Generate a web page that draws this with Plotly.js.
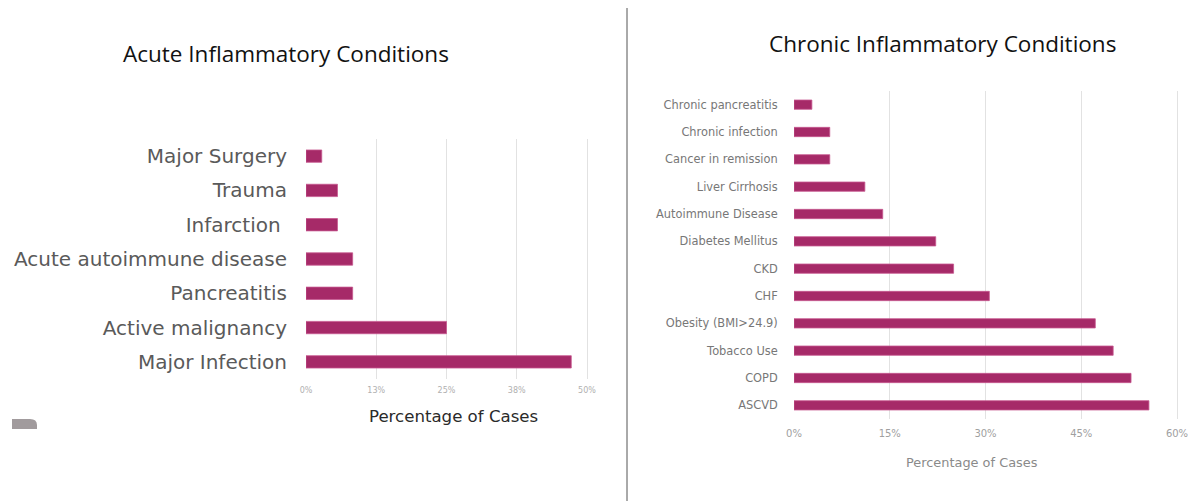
<!DOCTYPE html>
<html>
<head>
<meta charset="utf-8">
<script src="https://cdn.plot.ly/plotly-3.0.1.min.js"></script>
<style>
  html, body { margin: 0; padding: 0; background: #ffffff; }
  #chart { width: 1188px; height: 501px; }
</style>
</head>
<body>
<div id="chart"></div>
<script>
// Acute conditions (share of cases, %)
const acuteCategories = ['Major Surgery', 'Trauma', 'Infarction ', 'Acute autoimmune disease', 'Pancreatitis', 'Active malignancy', 'Major Infection'];
const acuteValues = [2.8, 5.6, 5.6, 8.3, 8.3, 25.0, 47.2];
const acuteTickVals = [0, 12.5, 25, 37.5, 50];
const acuteTickText = ['0%', '13%', '25%', '38%', '50%'];

// Chronic conditions (share of cases, %)
const chronicCategories = ['Chronic pancreatitis', 'Chronic infection', 'Cancer in remission', 'Liver Cirrhosis', 'Autoimmune Disease', 'Diabetes Mellitus', 'CKD', 'CHF', 'Obesity (BMI>24.9)', 'Tobacco Use', 'COPD', 'ASCVD'];
const chronicValues = [2.8, 5.6, 5.6, 11.1, 13.9, 22.2, 25.0, 30.6, 47.2, 50.0, 52.8, 55.6];
const chronicTickVals = [0, 15, 30, 45, 60];
const chronicTickText = ['0%', '15%', '30%', '45%', '60%'];

const barColor = '#a62a68';
const W = 1188, H = 501;
const px = x => x / W;           // pixel -> paper x
const py = y => 1 - y / H;       // pixel -> paper y

// a little headroom past the last tick so its gridline is kept
const acuteMax = 50.4, chronicMax = 60.4;
const acuteLeft = 306, acutePerPct = (587 - 306) / 50;
const chronicLeft = 794, chronicPerPct = (1177 - 794) / 60;

const traces = [
  {
    type: 'bar', orientation: 'h',
    x: acuteValues, y: acuteCategories,
    xaxis: 'x', yaxis: 'y',
    width: 0.36,
    marker: { color: barColor, line: { color: '#c6588f', width: 0.8 } },
    hoverinfo: 'skip'
  },
  {
    type: 'bar', orientation: 'h',
    x: chronicValues, y: chronicCategories,
    xaxis: 'x2', yaxis: 'y2',
    width: 0.34,
    marker: { color: barColor, line: { color: '#c6588f', width: 0.8 } },
    hoverinfo: 'skip'
  }
];

const layout = {
  width: W, height: H,
  margin: { l: 0, r: 0, t: 0, b: 0 },
  paper_bgcolor: '#ffffff',
  plot_bgcolor: '#ffffff',
  showlegend: false,
  xaxis: {
    domain: [px(acuteLeft), px(acuteLeft + acuteMax * acutePerPct)],
    range: [0, acuteMax],
    tickvals: acuteTickVals, ticktext: acuteTickText,
    showgrid: true, gridcolor: '#e2e2e2', gridwidth: 1,
    zeroline: false, showline: false,
    ticks: 'outside', ticklen: 3, tickcolor: 'rgba(0,0,0,0)',
    tickfont: { family: 'DejaVu Sans', size: 8, color: '#b0b0b0' },
    ticklabeloverflow: 'allow',
    fixedrange: true
  },
  yaxis: {
    domain: [py(379), py(139)],
    autorange: 'reversed',
    type: 'category',
    showgrid: false, zeroline: false, showline: false,
    ticks: 'outside', ticklen: 14, tickcolor: 'rgba(0,0,0,0)',
    tickfont: { family: 'DejaVu Sans', size: 20, color: '#5a5a5a' },
    fixedrange: true
  },
  xaxis2: {
    anchor: 'y2',
    domain: [px(chronicLeft), px(chronicLeft + chronicMax * chronicPerPct)],
    range: [0, chronicMax],
    tickvals: chronicTickVals, ticktext: chronicTickText,
    showgrid: true, gridcolor: '#e2e2e2', gridwidth: 1,
    zeroline: false, showline: false,
    ticks: 'outside', ticklen: 5, tickcolor: 'rgba(0,0,0,0)',
    tickfont: { family: 'DejaVu Sans', size: 10, color: '#a0a0a0' },
    ticklabeloverflow: 'allow',
    fixedrange: true
  },
  yaxis2: {
    anchor: 'x2',
    domain: [py(419), py(91)],
    autorange: 'reversed',
    type: 'category',
    showgrid: false, zeroline: false, showline: false,
    ticks: 'outside', ticklen: 13, tickcolor: 'rgba(0,0,0,0)',
    tickfont: { family: 'DejaVu Sans', size: 11.4, color: '#777777' },
    fixedrange: true
  },
  annotations: [
    {
      text: 'Acute Inflammatory Conditions',
      xref: 'paper', yref: 'paper', x: px(286), y: py(54),
      xanchor: 'center', yanchor: 'middle', showarrow: false,
      font: { family: 'Open Sans', size: 22.5, color: '#111111' }
    },
    {
      text: 'Chronic Inflammatory Conditions',
      xref: 'paper', yref: 'paper', x: px(942), y: py(44),
      xanchor: 'center', yanchor: 'middle', showarrow: false,
      font: { family: 'Open Sans', size: 22.5, color: '#111111' }
    },
    {
      text: 'Percentage of Cases',
      xref: 'paper', yref: 'paper', x: px(453), y: py(416),
      xanchor: 'center', yanchor: 'middle', showarrow: false,
      font: { family: 'DejaVu Sans', size: 16.6, color: '#2a2a2a' }
    },
    {
      text: 'Percentage of Cases',
      xref: 'paper', yref: 'paper', x: px(972), y: py(462),
      xanchor: 'center', yanchor: 'middle', showarrow: false,
      font: { family: 'DejaVu Sans', size: 12.9, color: '#8a8a8a' }
    }
  ],
  shapes: [
    // divider between the two panels
    {
      type: 'line', xref: 'paper', yref: 'paper',
      x0: px(627), x1: px(627), y0: 0, y1: py(8),
      line: { color: '#555555', width: 1 }
    },
    // small grey tab at the lower left
    {
      type: 'path', xref: 'paper', yref: 'paper',
      path: 'M ' + px(12) + ',' + py(429) +
            ' L ' + px(12) + ',' + py(419) +
            ' L ' + px(30) + ',' + py(419) +
            ' Q ' + px(37) + ',' + py(419) + ' ' + px(37) + ',' + py(425) +
            ' L ' + px(37) + ',' + py(429) + ' Z',
      fillcolor: '#a19b9d', line: { width: 0 }
    }
  ]
};

Plotly.newPlot('chart', traces, layout, { displayModeBar: false, staticPlot: true });
</script>
</body>
</html>
